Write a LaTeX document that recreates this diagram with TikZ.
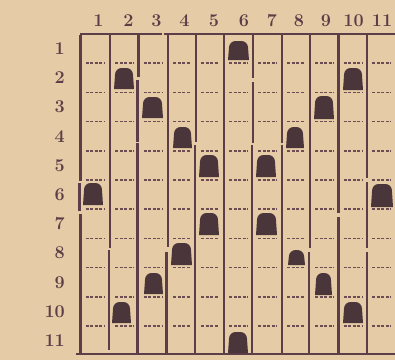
\documentclass[tikz,border=0pt]{standalone}
\usepackage{fontspec}
\definecolor{paper}{RGB}{230,204,166}
\definecolor{ink}{RGB}{92,62,72}
\definecolor{dashink}{RGB}{110,76,84}
\definecolor{blockink}{RGB}{74,54,58}
\tikzset{
  vline/.style={draw=ink, line width=2.6pt},
  hline/.style={draw=ink, line width=2.2pt},
  dashline/.style={draw=dashink, line width=1.5pt, dash pattern=on 3pt off 1.6pt},
  lbl/.style={text=ink, font=\fontsize{18}{18}\selectfont\bfseries, inner sep=0pt},
  blockfill/.style={fill=blockink}
}
\newcommand\blk[4]{\fill[blockfill] (#1,#4) [rounded corners=6pt] -- (#1+1.5,#2) -- (#3-1.5,#2) [sharp corners] -- (#3,#4) -- cycle;}
\begin{document}
\begin{tikzpicture}[x=1pt,y=-1pt]
\fill[paper] (0,0) rectangle (395,360);
\useasboundingbox (0,0) rectangle (395,360);
% dashed row separators inside each cell
\foreach \k in {1,...,10}{
  \pgfmathsetmacro\yy{34+29.2*\k}
  \foreach \a/\b in {80.5/110,110/138.5,138.5/168,168/196,196/224,224/253,253/282,282/310,310/338.5,338.5/367,367/396}{
    \draw[dashline] (\a+5,\yy) -- (\b-5,\yy);
  }
}
% vertical lines (with the breaks of the print)
\draw[vline] (80.5,35) -- (80.5,181);
\draw[vline] (79.5,183) -- (79.5,211);
\draw[vline] (80.5,214) -- (80.5,353);
\draw[vline] (110,35) -- (110,248);
\draw[vline] (109,250) -- (109,350);
\draw[vline] (138.5,35) -- (138.5,77);
\draw[vline] (137.5,80) -- (137.5,141.5);
\draw[vline] (137.5,143) -- (137.5,353);
\draw[vline] (168,35) -- (168,247);
\draw[vline] (166.5,252) -- (166.5,353);
\draw[vline] (196,35) -- (196,142);
\draw[vline] (195,145) -- (195,353);
\draw[vline] (224,35) -- (224,353);
\draw[vline] (253,35) -- (253,78);
\draw[vline] (253,82) -- (253,143);
\draw[vline] (252,145) -- (252,353);
\draw[vline] (282,35) -- (282,143);
\draw[vline] (282,145) -- (282,353);
\draw[vline] (310,35) -- (310,248);
\draw[vline] (309,252) -- (309,353);
\draw[vline] (338.5,35) -- (338.5,213);
\draw[vline] (338.5,217) -- (338.5,353);
\draw[vline] (367,35) -- (367,178);
\draw[vline] (367,182) -- (367,248);
\draw[vline] (367,252) -- (367,353);
% top and bottom rules
\draw[hline] (80,34) -- (162,34);
\draw[hline] (164,34) -- (395,34);
\draw[hline] (76,354) -- (395,354);
% blocks
\blk{228}{41}{249}{60}
\blk{114}{68}{134}{89}
\blk{343}{68}{363}{90}
\blk{142}{97}{163}{118}
\blk{314}{96}{334}{119}
\blk{173}{127}{192}{148}
\blk{286}{127}{304}{148}
\blk{199}{155}{219}{177}
\blk{256}{155}{276}{177}
\blk{83}{183}{103}{205}
\blk{371}{184}{393}{207}
\blk{199}{213}{219}{235}
\blk{256}{213}{277}{235}
\blk{171}{243}{192}{265}
\blk{288}{250}{305}{265}
\blk{144}{273}{163}{294}
\blk{315}{273}{332}{295}
\blk{112}{302}{131}{323}
\blk{343}{302}{363}{323}
\blk{228}{332}{248}{353}
% column labels
\foreach \n/\x in {1/98.5,2/128.5,3/156.5,4/184.5,5/214,6/244,7/272,8/299,9/326,10/353.5,11/382}{
  \node[lbl] (c\n) at (\x,21) {\n};
}
% row labels
\foreach \n in {1,...,11}{
  \pgfmathsetmacro\yy{34+29.2*(\n-0.5)}
  \node[lbl, anchor=east] (r\n) at (65,\yy) {\n};
}
\end{tikzpicture}
\end{document}
